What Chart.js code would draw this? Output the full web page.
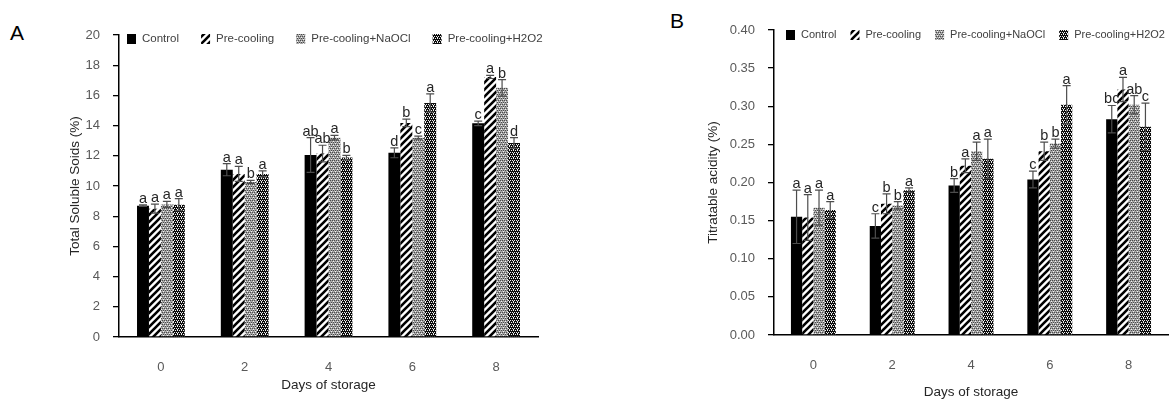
<!DOCTYPE html>
<html>
<head>
<meta charset="utf-8">
<script src="https://cdn.jsdelivr.net/npm/chart.js@4.4.1/dist/chart.umd.min.js"></script>
<style>
  body { margin: 0; background: #fff; }
  .wrap { position: relative; width: 1175px; height: 399px; overflow: hidden; }
  .panel { position: absolute; top: 0; }
  .tag { position: absolute; font: 21px "Liberation Sans", Arial, sans-serif; color: #000; }
</style>
</head>
<body>
<div class="wrap">
  <div class="tag" style="left:10px; top:21px;">A</div>
  <div class="tag" style="left:670px; top:9px;">B</div>
  <div class="panel" style="left:0px;"><canvas id="chartA" width="585" height="399"></canvas></div>
  <div class="panel" style="left:590px;"><canvas id="chartB" width="585" height="399"></canvas></div>
</div>
<script>
// storage days on the x axis
const days = ['0', '2', '4', '6', '8'];
const seriesNames = ['Control', 'Pre-cooling', 'Pre-cooling+NaOCl', 'Pre-cooling+H2O2'];

// A: total soluble solids (%)
const tssControl = [8.7, 11.08, 12.05, 12.2, 14.15];
const tssPreCooling = [8.5, 10.8, 12.15, 14.18, 17.22];
const tssNaOCl = [8.78, 10.27, 13.2, 13.2, 16.5];
const tssH2O2 = [8.76, 10.8, 11.88, 15.5, 12.85];
const tssControlErr = [0.05, 0.4, 1.15, 0.33, 0.15];
const tssPreCoolingErr = [0.3, 0.5, 0.55, 0.25, 0.1];
const tssNaOClErr = [0.2, 0.1, 0.15, 0.1, 0.55];
const tssH2O2Err = [0.4, 0.2, 0.15, 0.6, 0.35];
const tssControlSig = ['a', 'a', 'ab', 'd', 'c'];
const tssPreCoolingSig = ['a', 'a', 'ab', 'b', 'a'];
const tssNaOClSig = ['a', 'b', 'a', 'c', 'b'];
const tssH2O2Sig = ['a', 'a', 'b', 'a', 'd'];
const tssTicks = [0, 2, 4, 6, 8, 10, 12, 14, 16, 18, 20];

// B: titratable acidity (%)
const taControl = [0.155, 0.143, 0.196, 0.204, 0.283];
const taPreCooling = [0.154, 0.172, 0.222, 0.241, 0.322];
const taNaOCl = [0.167, 0.170, 0.241, 0.251, 0.302];
const taH2O2 = [0.164, 0.190, 0.231, 0.302, 0.273];
const taControlErr = [0.035, 0.016, 0.009, 0.011, 0.018];
const taPreCoolingErr = [0.03, 0.013, 0.009, 0.012, 0.016];
const taNaOClErr = [0.023, 0.005, 0.012, 0.006, 0.012];
const taH2O2Err = [0.011, 0.003, 0.026, 0.025, 0.031];
const taControlSig = ['a', 'c', 'b', 'c', 'bc'];
const taPreCoolingSig = ['a', 'b', 'a', 'b', 'a'];
const taNaOClSig = ['a', 'b', 'a', 'b', 'ab'];
const taH2O2Sig = ['a', 'a', 'a', 'a', 'c'];
const taTicks = [0, 0.05, 0.10, 0.15, 0.20, 0.25, 0.30, 0.35, 0.40];

Chart.defaults.font.family = '"Liberation Sans", Arial, sans-serif';

// fill patterns like the excel ones
function tile(size, draw) {
    const c = document.createElement('canvas');
    c.width = size; c.height = size;
    const g = c.getContext('2d');
    draw(g, size);
    return g.createPattern(c, 'repeat');
}

const stripes = tile(7, (g, s) => {
    g.fillStyle = '#fff';
    g.fillRect(0, 0, s, s);
    g.strokeStyle = '#000';
    g.lineWidth = 2.6;
    g.beginPath();
    g.moveTo(-1, s + 1); g.lineTo(s + 1, -1);
    g.moveTo(-1, 1); g.lineTo(1, -1);
    g.moveTo(s - 1, s + 1); g.lineTo(s + 1, s - 1);
    g.stroke();
});

const greyDots = tile(4, (g) => {
    g.fillStyle = '#a6a6a6';
    g.fillRect(0, 0, 4, 4);
    g.fillStyle = '#4a4a4a';
    [[0, 0], [2, 0], [1, 2], [3, 2]].forEach(p => g.fillRect(p[0], p[1], 1, 1));
    g.fillStyle = '#f2f2f2';
    [[1, 1], [3, 3]].forEach(p => g.fillRect(p[0], p[1], 1, 1));
});

const darkDots = tile(4, (g) => {
    g.fillStyle = '#0d0d0d';
    g.fillRect(0, 0, 4, 4);
    g.fillStyle = '#f0f0f0';
    [[0, 0], [2, 0], [1, 2], [3, 2], [1, 1]].forEach(p => g.fillRect(p[0], p[1], 1, 1));
});

const fills = ['#000', stripes, greyDots, darkDots];

// error bars + significance letters
const errorBars = {
    id: 'errorBars',
    afterDatasetsDraw(chart) {
        const ctx = chart.ctx;
        const y = chart.scales.y;
        ctx.save();
        chart.data.datasets.forEach((ds, i) => {
            chart.getDatasetMeta(i).data.forEach((bar, j) => {
                const v = ds.data[j], e = ds.errors[j];
                const top = y.getPixelForValue(v + e);
                const bot = y.getPixelForValue(v - e);
                ctx.strokeStyle = '#4d4d4d';
                ctx.lineWidth = 1.2;
                ctx.beginPath();
                ctx.moveTo(bar.x, top); ctx.lineTo(bar.x, bot);
                ctx.moveTo(bar.x - 4, top); ctx.lineTo(bar.x + 4, top);
                ctx.moveTo(bar.x - 4, bot); ctx.lineTo(bar.x + 4, bot);
                ctx.stroke();
                ctx.fillStyle = '#262626';
                ctx.font = '14.5px "Liberation Sans", Arial, sans-serif';
                ctx.textAlign = 'center';
                ctx.textBaseline = 'alphabetic';
                ctx.fillText(ds.letters[j], bar.x, top - 2);
            });
        });
        ctx.restore();
    }
};

// legend drawn inside the plot, as in the figure
const innerLegend = {
    id: 'innerLegend',
    afterDraw(chart, args, opts) {
        const ctx = chart.ctx;
        ctx.save();
        ctx.font = opts.size + 'px "Liberation Sans", Arial, sans-serif';
        ctx.textBaseline = 'middle';
        ctx.textAlign = 'left';
        let x = opts.x;
        chart.data.datasets.forEach(ds => {
            ctx.fillStyle = ds.backgroundColor;
            ctx.fillRect(x, opts.y - 5, 9, 10);
            x += 9 + 6;
            ctx.fillStyle = '#404040';
            ctx.fillText(ds.label, x, opts.y);
            x += ctx.measureText(ds.label).width + opts.gap;
        });
        ctx.restore();
    }
};

function makeChart(id, sets, ticks, cfg) {
    return new Chart(document.getElementById(id), {
        type: 'bar',
        data: {
            labels: days,
            datasets: sets.map((s, i) => ({
                label: seriesNames[i],
                data: s[0],
                errors: s[1],
                letters: s[2],
                backgroundColor: fills[i],
                borderWidth: 0,
                categoryPercentage: 0.57,
                barPercentage: 1.0,
            })),
        },
        options: {
            responsive: false,
            animation: false,
            layout: { padding: { top: cfg.top, right: cfg.right, left: 0, bottom: 0 } },
            plugins: {
                legend: { display: false },
                tooltip: { enabled: false },
                innerLegend: cfg.legend,
            },
            scales: {
                x: {
                    afterFit: (s) => { s.height = cfg.xHeight; },
                    grid: { display: false, drawTicks: false },
                    border: { color: '#000', width: 1.5 },
                    ticks: { color: '#595959', font: { size: 13 }, padding: 23 },
                    title: {
                        display: true, text: 'Days of storage', color: '#262626',
                        font: { size: 13.5, lineHeight: 1 }, padding: { top: 0, bottom: cfg.xTitlePad },
                    },
                },
                y: {
                    min: 0,
                    max: ticks[ticks.length - 1],
                    afterFit: (s) => { s.width = cfg.yWidth; },
                    afterBuildTicks: (s) => { s.ticks = ticks.map(v => ({ value: v })); },
                    grid: { drawOnChartArea: false, drawTicks: true, tickLength: 6, color: '#000', lineWidth: 1.3 },
                    border: { color: '#000', width: 1.5 },
                    ticks: { color: '#595959', font: { size: 13 }, padding: 13, callback: cfg.fmt },
                    title: {
                        display: true, text: cfg.yTitle, color: '#262626',
                        font: { size: 13.5, lineHeight: 1 }, padding: { top: cfg.yTitlePad, bottom: 0 },
                    },
                },
            },
        },
        plugins: [errorBars, innerLegend],
    });
}

makeChart('chartA', [
    [tssControl, tssControlErr, tssControlSig],
    [tssPreCooling, tssPreCoolingErr, tssPreCoolingSig],
    [tssNaOCl, tssNaOClErr, tssNaOClSig],
    [tssH2O2, tssH2O2Err, tssH2O2Sig],
], tssTicks, {
    top: 35, right: 47, xHeight: 62, yWidth: 119, xTitlePad: 7, yTitlePad: 69,
    yTitle: 'Total Soluble Soids (%)',
    fmt: (v) => v,
    legend: { x: 127, y: 39, gap: 22, size: 11.5 },
});

makeChart('chartB', [
    [taControl, taControlErr, taControlSig],
    [taPreCooling, taPreCoolingErr, taPreCoolingSig],
    [taNaOCl, taNaOClErr, taNaOClSig],
    [taH2O2, taH2O2Err, taH2O2Sig],
], taTicks, {
    top: 30, right: 7, xHeight: 64, yWidth: 184, xTitlePad: 0, yTitlePad: 117,
    yTitle: 'Titratable acidity (%)',
    fmt: (v) => Number(v).toFixed(2),
    legend: { x: 196, y: 35, gap: 14, size: 11 },
});
</script>
</body>
</html>
